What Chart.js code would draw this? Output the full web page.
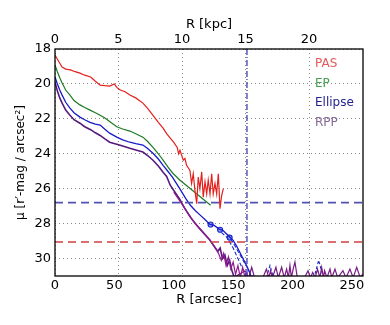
<!DOCTYPE html>
<html>
<head>
<meta charset="utf-8">
<script src="https://cdn.jsdelivr.net/npm/chart.js@4"></script>
<style>
  html, body { margin: 0; padding: 0; background: #fff; }
  #wrap { width: 390px; height: 325px; }
</style>
</head>
<body>
<div id="wrap"><canvas id="myChart" width="390" height="325"></canvas></div>
<script>
// Surface brightness profiles
const pasR  = [0, 3, 6, 9, 13, 17, 21, 25, 30, 34, 38, 42, 46, 50, 52, 55, 59, 63, 68, 74, 78, 82.5, 87, 91, 94, 97, 100, 103, 104, 105.2, 108, 109.4, 110.8, 113.6, 115, 116.4, 117.8, 119.3, 120.6, 122, 123.5, 124.8, 126.3, 127.7, 129, 130.5, 131.9, 133.2, 134.7, 136.1, 137.5, 138.9, 140.3, 141.7];
const pasMu = [18.35, 18.7, 19.03, 19.15, 19.2, 19.3, 19.38, 19.5, 19.6, 19.85, 20.07, 20.1, 20.12, 20.0, 20.2, 20.35, 20.45, 20.64, 20.8, 21.1, 21.4, 21.8, 22.2, 22.53, 22.85, 23.1, 23.35, 23.65, 24.0, 23.8, 24.37, 24.27, 24.66, 24.95, 25.7, 25.14, 26.1, 26.86, 25.33, 26.0, 25.04, 26.48, 25.6, 26.3, 25.5, 26.3, 25.14, 26.3, 25.7, 26.3, 25.14, 27.15, 26.4, 26.0];

const epR  = [0, 2, 4, 6, 9, 12.6, 16, 21, 25, 29.5, 34, 38, 42, 46, 52, 57, 63, 68, 74, 78, 82.5, 87, 91, 95, 99, 105, 113, 122, 131];
const epMu = [18.92, 19.3, 19.65, 19.95, 20.35, 20.64, 20.95, 21.2, 21.35, 21.5, 21.65, 21.79, 21.95, 22.15, 22.45, 22.58, 22.7, 22.85, 23.05, 23.3, 23.63, 24.0, 24.37, 24.75, 25.1, 25.5, 25.95, 26.45, 26.95];

const ellR  = [0, 2, 4, 6, 9, 12.6, 16, 21, 25, 29.5, 34, 38, 42, 46, 52, 57, 63, 68, 74, 78, 82.5, 87, 91, 95, 99, 105, 110, 114, 118, 122, 126, 130.5, 134, 138, 141.5, 146, 150, 153, 156, 159, 162, 165];
const ellMu = [19.6, 20.0, 20.35, 20.64, 21.05, 21.39, 21.65, 21.9, 22.05, 22.2, 22.3, 22.36, 22.6, 22.82, 23.05, 23.2, 23.34, 23.42, 23.5, 23.7, 23.97, 24.3, 24.66, 25.0, 25.35, 26.0, 26.55, 26.95, 27.25, 27.5, 27.75, 28.05, 28.1, 28.3, 28.4, 28.7, 28.96, 29.3, 29.7, 30.1, 30.5, 31.0];
const ellMarkR  = [131, 139, 147];
const ellMarkMu = [28.05, 28.35, 28.8];
const ellLoR  = [145, 150, 155, 160, 165, 168];
const ellLoMu = [28.6, 29.1, 29.7, 30.3, 30.9, 31.2];
const ellHiR  = [140, 145, 150, 154, 158, 162];
const ellHiMu = [28.5, 28.8, 29.4, 30.0, 30.6, 31.1];
const ellTailR  = [178, 181, 184, 218, 222, 226];
const ellTailMu = [31.1, 30.4, 31.1, 31.1, 30.1, 31.1];

const rppR  = [0, 2, 4, 6, 9, 12.6, 16, 21, 25, 30, 34, 38, 42, 46, 52, 57, 63, 68, 74, 78, 82.5, 87, 91, 94, 97, 101, 105, 109, 113.6, 118, 122, 126, 130.5, 134, 137, 139, 141, 143, 145, 147, 149, 151];
const rppMu = [19.9, 20.4, 20.8, 21.1, 21.5, 21.79, 22.05, 22.25, 22.45, 22.62, 22.8, 22.95, 23.15, 23.34, 23.45, 23.55, 23.68, 23.78, 23.9, 24.1, 24.37, 24.7, 25.06, 25.3, 25.8, 26.2, 26.6, 27.1, 27.6, 28.0, 28.3, 28.6, 28.95, 29.3, 29.6, 29.4, 30.0, 29.8, 30.4, 30.1, 30.7, 31.1];
const rpp2R  = [100, 105, 110, 115, 120, 125, 130, 134, 137, 140, 142, 144, 146, 148, 150, 152, 154, 156, 158, 160, 162];
const rpp2Mu = [26.2, 26.7, 27.2, 27.7, 28.15, 28.55, 28.9, 29.3, 29.6, 30.1, 29.7, 30.4, 29.9, 30.6, 30.2, 30.9, 30.4, 31.1, 30.5, 31.1, 30.8];
const rppTailR  = [150, 160, 163, 165.6, 168, 175, 178, 180, 181.5, 183, 186, 188, 190.8, 193, 195, 196.5, 197.8, 199, 200.5, 202, 204, 210, 213, 215, 217, 219, 221, 223, 224.5, 226, 227, 229, 231.5, 233, 235.7, 238, 242.4, 245, 248.3, 251, 254, 257, 259];
const rppTailMu = [31.1, 30.7, 31.1, 30.5, 31.1, 31.1, 30.6, 31.1, 30.7, 31.1, 30.5, 31.1, 30.5, 31.1, 30.6, 31.1, 30.4, 31.1, 30.6, 30.2, 31.1, 31.1, 30.7, 31.1, 30.8, 31.1, 30.6, 31.1, 30.5, 31.1, 30.7, 31.1, 30.6, 31.1, 30.6, 31.1, 30.7, 31.1, 30.6, 31.1, 30.5, 31.1, 30.9];

// Limits and reference lines
const limitBlue = 26.8;
const limitRed = 29.05;
const rLimit = 161.6;

const legendNames = ['PAS', 'EP', 'Ellipse', 'RPP'];
const legendColors = ['#e05a5a', '#44a050', '#23238f', '#85689a'];

function pts(xs, ys) {
    return xs.map((x, i) => ({ x: x, y: ys[i] }));
}

function line(data, color, width, dash) {
    return {
        data: data,
        borderColor: color,
        backgroundColor: color,
        borderWidth: width,
        borderDash: dash || [],
        pointRadius: 0,
        tension: 0,
        fill: false
    };
}

// Frame around the plot area and the text legend
const framePlugin = {
    id: 'frame',
    afterDatasetsDraw(chart) {
        const a = chart.chartArea;
        const ctx = chart.ctx;
        ctx.save();
        ctx.strokeStyle = '#000';
        ctx.lineWidth = 1.3;
        ctx.strokeRect(a.left, a.top, a.right - a.left, a.bottom - a.top);
        ctx.font = '12px "DejaVu Sans"';
        ctx.textBaseline = 'middle';
        ctx.textAlign = 'left';
        const ys = [64, 84, 103, 123];
        legendNames.forEach((n, i) => {
            ctx.fillStyle = legendColors[i];
            ctx.fillText(n, 315, ys[i]);
        });
        ctx.restore();
    }
};

const ctx = document.getElementById('myChart').getContext('2d');
const tickFont = { family: 'DejaVu Sans', size: 13 };

new Chart(ctx, {
    type: 'line',
    data: {
        datasets: [
            line([{ x: 0, y: limitBlue }, { x: 260, y: limitBlue }], '#5252b4', 1.6, [8, 5]),
            line([{ x: 0, y: limitRed }, { x: 260, y: limitRed }], '#d04040', 1.6, [8, 5]),
            line([{ x: rLimit, y: 18 }, { x: rLimit, y: 31 }], '#4a4ac0', 1.4, [6, 2, 1, 2]),
            line(pts(pasR, pasMu), '#e4201c', 1.2),
            line(pts(epR, epMu), '#1d7a22', 1.2),
            line(pts(rpp2R, rpp2Mu), '#8e1a8e', 1.2),
            line(pts(rppTailR, rppTailMu), '#7a1a86', 1.2),
            line(pts(rppR, rppMu), '#561a7e', 1.6),
            line(pts(ellLoR, ellLoMu), '#1c2ccc', 1.1, [4, 2]),
            line(pts(ellHiR, ellHiMu), '#1c2ccc', 1.1, [4, 2]),
            line(pts(ellTailR, ellTailMu), '#1c2ccc', 1.1, [3, 2]),
            line(pts(ellR, ellMu), '#1a1ac8', 1.3),
            {
                data: pts(ellMarkR, ellMarkMu),
                showLine: false,
                pointRadius: 2.5,
                borderWidth: 1.2,
                borderColor: '#1a2ad0',
                backgroundColor: 'rgba(80,110,230,0.6)'
            }
        ]
    },
    options: {
        responsive: false,
        animation: false,
        layout: { padding: { left: 14, right: 27, top: 17, bottom: 18 } },
        plugins: { legend: { display: false }, tooltip: { enabled: false } },
        scales: {
            x: {
                type: 'linear',
                position: 'bottom',
                min: 0,
                max: 259.3,
                border: { display: false },
                grid: { display: false, drawTicks: false },
                ticks: { stepSize: 50, includeBounds: false, padding: 2, color: '#000', font: tickFont, maxRotation: 0 },
                title: { display: true, text: 'R [arcsec]', color: '#000', font: tickFont, padding: 0 },
                afterFit(s) { s.height = 31; }
            },
            xTop: {
                type: 'linear',
                position: 'top',
                min: 0,
                max: 24.25,
                border: { display: false, dash: [1, 3] },
                grid: { color: '#8a8a8a', lineWidth: 1, drawTicks: false },
                ticks: { stepSize: 5, includeBounds: false, padding: 2, color: '#000', font: tickFont, maxRotation: 0 },
                title: { display: true, text: 'R [kpc]', color: '#000', font: tickFont, padding: 0 },
                afterFit(s) { s.height = 32; }
            },
            y: {
                type: 'linear',
                reverse: true,
                min: 18,
                max: 31,
                border: { display: false, dash: [1, 3] },
                grid: { color: '#8a8a8a', lineWidth: 1, drawTicks: false },
                ticks: { stepSize: 2, includeBounds: false, padding: 4, color: '#000', font: tickFont },
                title: { display: true, text: 'μ [r′-mag / arcsec²]', color: '#000', font: { family: 'DejaVu Sans', size: 12 }, padding: 0 },
                afterFit(s) { s.width = 41; }
            }
        }
    },
    plugins: [framePlugin]
});
</script>
</body>
</html>
